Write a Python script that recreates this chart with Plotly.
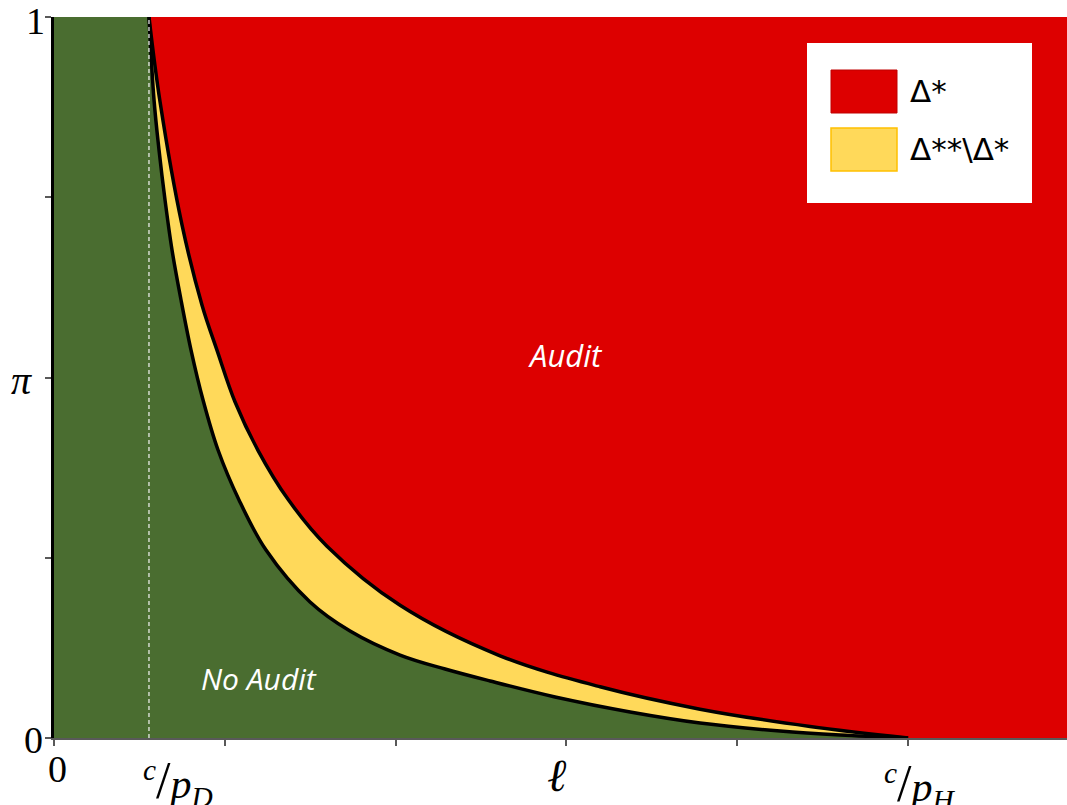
import plotly.graph_objects as go

# ---- data (x in axis units: c/pH = 5, ell = 3) ----
c_pD = 0.556
c_pH = 5.0
x_max = 5.93

upper_x = [0.556, 0.621, 0.749, 0.867, 0.954, 1.060, 1.194, 1.370, 1.598, 2.026, 2.611, 3.197, 3.782, 4.426, 5.0]
upper_y = [1.0, 0.882, 0.712, 0.600, 0.538, 0.466, 0.399, 0.331, 0.266, 0.184, 0.114, 0.071, 0.040, 0.016, 0.0]

lower_x = [0.556, 0.5855, 0.6148, 0.6499, 0.6909, 0.7436, 0.8021, 0.8724, 0.9602, 1.0831, 1.2412,
           1.4988, 1.7330, 2.0258, 2.2892, 2.5527, 2.9333, 3.3724, 3.7822, 4.2506, 4.6019, 5.0]
lower_y = [1.0, 0.8849, 0.8155, 0.7462, 0.6768, 0.6075, 0.5381, 0.4688, 0.3994, 0.3301, 0.2607,
           0.1887, 0.1484, 0.1151, 0.0957, 0.0791, 0.0569, 0.0361, 0.0208, 0.0097, 0.0042, 0.0]

y_tickvals = [0, 0.25, 0.5, 0.75, 1]
x_tickvals = [0, 1, 2, 3, 4, 5]

legend_labels = ["Δ*", "Δ**\\Δ*"]

GREEN = "#4A6D30"
RED = "#DD0000"
YELLOW = "#FFD95A"
YELLOW_EDGE = "#FFC000"

fig = go.Figure()

fig.add_trace(go.Scatter(x=lower_x, y=lower_y, mode="lines", line=dict(width=0, shape="spline"),
                         hoverinfo="skip", showlegend=False))
fig.add_trace(go.Scatter(x=upper_x, y=upper_y, mode="lines", line=dict(width=0, shape="spline"),
                         fill="tonexty", fillcolor=YELLOW, hoverinfo="skip", showlegend=False))
fig.add_trace(go.Scatter(x=[c_pD, x_max, x_max, c_pH], y=[1, 1, 0, 0], mode="lines",
                         line=dict(width=0), fill="tonexty", fillcolor=RED,
                         hoverinfo="skip", showlegend=False))
fig.add_trace(go.Scatter(x=lower_x, y=lower_y, mode="lines",
                         line=dict(color="black", width=3.5, shape="spline"),
                         hoverinfo="skip", showlegend=False))
fig.add_trace(go.Scatter(x=upper_x, y=upper_y, mode="lines",
                         line=dict(color="black", width=3.5, shape="spline"),
                         hoverinfo="skip", showlegend=False))
fig.add_trace(go.Scatter(x=[c_pD, c_pD], y=[0, 1], mode="lines",
                         line=dict(color="#F5F5F5", width=1.2, dash="4px,3px"),
                         hoverinfo="skip", showlegend=False))

serif = "Liberation Serif"

fig.update_layout(
    width=1067, height=805,
    margin=dict(l=54, r=0, t=17, b=67),
    paper_bgcolor="white", plot_bgcolor=GREEN,
    showlegend=False,
    xaxis=dict(range=[0, x_max], showgrid=False, zeroline=False,
               tickvals=x_tickvals, showticklabels=False,
               ticks="outside", ticklen=6, tickwidth=1.5, tickcolor="#595959",
               showline=True, linecolor="#595959", linewidth=2),
    yaxis=dict(range=[0, 1], showgrid=False, zeroline=False,
               tickvals=y_tickvals, showticklabels=False,
               ticks="outside", ticklen=6, tickwidth=1.5, tickcolor="#595959",
               showline=True, linecolor="black", linewidth=2.5),
)

W, H = 1067 - 54, 738 - 17
def px(xp):
    return (xp - 54) / W
def py(yp):
    return (738 - yp) / H

def label(text, xc, yc, size, family=serif, color="black", xanchor="center", yanchor="middle"):
    fig.add_annotation(x=px(xc), y=py(yc), xref="paper", yref="paper", text=text,
                       showarrow=False, xanchor=xanchor, yanchor=yanchor,
                       font=dict(family=family, size=size, color=color))

# y-axis labels
label("1", 35, 21, 38)
label("<i>π</i>", 21, 380, 40)
label("0", 33, 740, 38)

# x-axis labels
label("0", 57, 769, 38)
label("<i>ℓ</i>", 557, 775, 46)
label("<i><sup>c</sup></i><span style='font-size:52px'>/</span><i>p</i><sub><i>D</i></sub>",
      141, 750, 42, xanchor="left", yanchor="top")
label("<i><sup>c</sup></i><span style='font-size:52px'>/</span><i>p</i><sub><i>H</i></sub>",
      882, 753, 42, xanchor="left", yanchor="top")

# region labels
label("<i>Audit</i>", 565, 355, 31, family="Open Sans", color="white")
label("<i>No Audit</i>", 259, 678, 30, family="Open Sans", color="white")

# legend box
fig.add_shape(type="rect", xref="paper", yref="paper", x0=px(807), x1=px(1032), y0=py(203), y1=py(43),
              fillcolor="white", line=dict(width=0))
fig.add_shape(type="rect", xref="paper", yref="paper", x0=px(831), x1=px(897), y0=py(113), y1=py(70),
              fillcolor=RED, line=dict(color="#C00000", width=1))
fig.add_shape(type="rect", xref="paper", yref="paper", x0=px(831), x1=px(897), y0=py(171), y1=py(128),
              fillcolor=YELLOW, line=dict(color=YELLOW_EDGE, width=1.5))
for lab, yc in zip(legend_labels, [91, 149]):
    label(lab, 908, yc, 31, family="DejaVu Sans", xanchor="left")

fig.write_html("out.html",
               config={"displayModeBar": False},
               post_script="document.body.style.margin='0';document.body.style.padding='0';"
                           "document.documentElement.style.overflow='hidden';")
